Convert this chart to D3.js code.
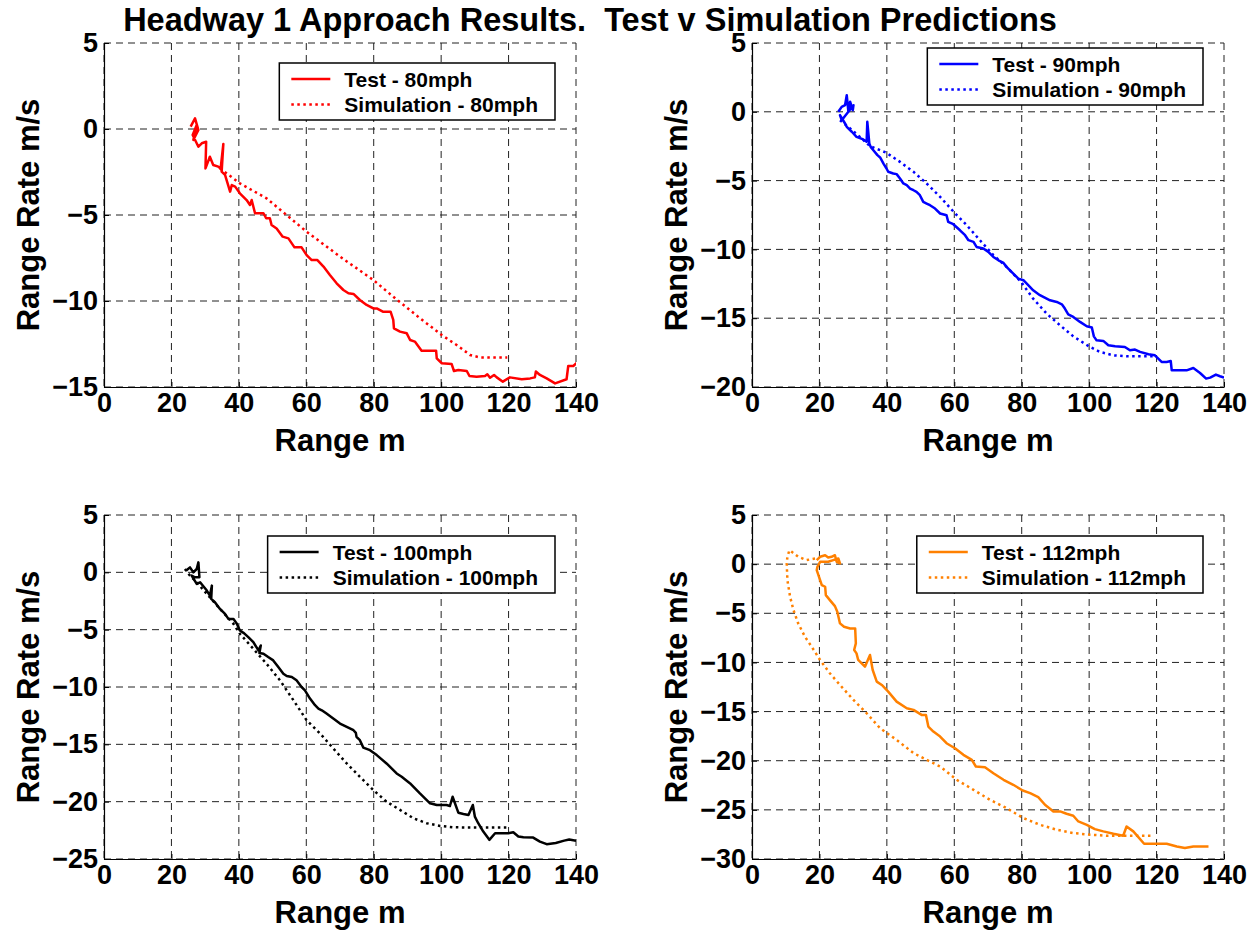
<!DOCTYPE html>
<html>
<head>
<meta charset="utf-8">
<script src="https://cdn.jsdelivr.net/npm/d3@7"></script>
<style>
  body { margin: 0; background: #fff; }
  text { font-family: "Liberation Sans", Arial, Helvetica, sans-serif; font-weight: bold; fill: #000; }
  .tick text { font-size: 27px; }
  .axis-label { font-size: 31px; }
  .legend-text { font-size: 21px; }
</style>
</head>
<body>
<div id="chart"></div>
<script>
// Data: [range m, range rate m/s]
const titleText = "Headway 1 Approach Results.  Test v Simulation Predictions";
const xTicks = [0, 20, 40, 60, 80, 100, 120, 140];

const yTicks80 = [5, 0, -5, -10, -15];
const yTicks90 = [5, 0, -5, -10, -15, -20];
const yTicks100 = [5, 0, -5, -10, -15, -20, -25];
const yTicks112 = [5, 0, -5, -10, -15, -20, -25, -30];

const legend80 = ["Test - 80mph", "Simulation - 80mph"];
const legend90 = ["Test - 90mph", "Simulation - 90mph"];
const legend100 = ["Test - 100mph", "Simulation - 100mph"];
const legend112 = ["Test - 112mph", "Simulation - 112mph"];

const test80 = [[25.7,0.14],[27.0,0.62],[28.0,-0.06],[26.5,-0.64],[27.5,0.23],[26.3,-0.35],[28.0,-1.03],[29.0,-0.83],
  [30.3,-0.74],[30.1,-2.29],[31.4,-1.61],[32.4,-2.09],[33.9,-2.19],[34.6,-2.29],[35.4,-0.87],[34.9,-2.48],[35.9,-2.67],
  [37.4,-3.64],[37.9,-3.26],[38.9,-3.35],[40.3,-3.74],[42.3,-4.13],[43.3,-4.42],[43.8,-4.13],[44.8,-4.90],[45.8,-4.90],
  [47.3,-4.90],[48.1,-5.19],[49.2,-5.19],[49.7,-5.58],[51.2,-5.78],[53.0,-6.26],[54.7,-6.36],[56.5,-6.88],[58.6,-6.88],
  [60.1,-7.33],[61.6,-7.62],[63.3,-7.62],[65.1,-8.0],[67.0,-8.49],[69.0,-8.97],[71.0,-9.36],[72.5,-9.55],[74.0,-9.59],
  [75.9,-9.94],[77.9,-10.23],[79.9,-10.43],[80.9,-10.43],[82.7,-10.62],[85.0,-10.62],[85.8,-11.10],[86.0,-11.59],
  [87.8,-11.78],[89.8,-11.88],[90.8,-12.27],[92.2,-12.36],[94.2,-12.89],[96.2,-12.89],[98.5,-12.89],[98.7,-13.33],
  [100.2,-13.62],[103.1,-13.66],[103.8,-14.07],[105.1,-14.01],[107.6,-14.07],[108.4,-14.36],[110.5,-14.40],[113.0,-14.36],
  [113.7,-14.26],[114.5,-14.46],[115.7,-14.30],[116.5,-14.44],[118.3,-14.69],[120.4,-14.44],[123.9,-14.55],[126.4,-14.5],
  [127.8,-14.44],[128.1,-14.1],[129.3,-14.3],[131.3,-14.5],[133.8,-14.79],[137.2,-14.55],[137.7,-13.78],[139.2,-13.78],[140.2,-13.6]];
const sim80 = [[34.4,-2.29],[40.3,-3.16],[48.2,-4.03],[60.1,-5.97],[70.0,-7.42],[79.9,-8.78],[85.8,-9.75],[93.7,-11.0],
  [100.2,-11.98],[104.6,-12.56],[108.6,-13.14],[111.5,-13.28],[115.5,-13.29],[119.6,-13.29]];

const test90 = [[25.6,0],[26.6,0.36],[27.6,0.48],[28.1,1.21],[28.6,0],[29.1,0.73],[29.9,0.12],[30.1,0.48],[26.6,-0.61],
  [26.1,-0.24],[27.6,-0.85],[28.1,-1.09],[29.6,-1.45],[31.0,-1.82],[33.0,-2.01],[34.0,-2.18],[34.2,-0.73],[34.8,-2.30],
  [35.2,-2.55],[36.0,-2.79],[37.2,-3.15],[38.0,-3.32],[39.0,-3.76],[39.9,-4.12],[40.4,-4.36],[41.9,-4.48],[42.9,-4.53],
  [43.9,-4.85],[44.9,-5.21],[45.9,-5.33],[46.9,-5.58],[47.9,-5.70],[48.8,-5.82],[49.8,-6.06],[50.8,-6.55],[51.8,-6.67],
  [52.8,-6.79],[54.3,-7.03],[55.8,-7.39],[57.7,-7.52],[58.2,-8.0],[59.7,-8.17],[61.7,-8.61],[63.2,-8.97],[64.2,-9.33],
  [65.7,-9.45],[66.6,-9.82],[68.6,-9.94],[70.1,-10.18],[71.6,-10.55],[73.1,-10.79],[74.6,-10.98],[75.5,-11.27],
  [77.5,-11.76],[79.0,-12.12],[80.5,-12.24],[82.0,-12.61],[83.4,-12.97],[85.4,-13.33],[88.4,-13.70],[90.4,-13.82],
  [91.9,-13.99],[92.8,-14.30],[93.8,-14.72],[95.3,-14.91],[97.3,-15.27],[99.3,-15.59],[100.8,-15.68],[101.4,-16.32],
  [102.2,-16.61],[104.2,-16.65],[105.7,-16.97],[107.7,-17.04],[110.6,-17.09],[112.1,-17.33],[113.6,-17.28],[115.1,-17.45],
  [117.6,-17.62],[119.5,-17.70],[121.5,-18.18],[123.0,-18.18],[124.2,-18.11],[124.5,-18.79],[127.0,-18.79],[128.9,-18.79],
  [130.9,-18.62],[132.9,-18.98],[134.7,-19.39],[135.9,-19.32],[137.6,-19.10],[138.8,-19.22],[140.0,-19.32]];
const sim90 = [[26.1,-0.61],[29.1,-1.21],[32.0,-1.82],[35.0,-2.50],[38.0,-2.79],[39.9,-2.98],[43.9,-3.64],[47.9,-4.36],
  [51.8,-5.21],[55.8,-6.18],[59.8,-7.27],[63.7,-8.24],[67.6,-9.33],[71.6,-10.42],[75.5,-11.27],[79.8,-12.36],[83.4,-13.58],
  [87.4,-14.67],[91.4,-15.52],[95.3,-16.32],[99.9,-17.04],[103.2,-17.45],[107.2,-17.70],[111.1,-17.77],[119.7,-17.77]];

const test100 = [[24.3,0.14],[25.5,0.43],[26.5,0],[27.5,0.29],[28.0,0.87],[28.3,-0.43],[27.0,-0.43],[26.0,-0.29],
  [27.5,-1.01],[28.5,-0.87],[30.5,-1.59],[31.4,-2.03],[32.0,-1.16],[31.8,-2.32],[32.9,-2.61],[34.4,-3.19],[35.9,-3.62],
  [36.9,-4.06],[38.4,-4.06],[39.4,-4.49],[40.3,-5.07],[41.5,-5.30],[42.8,-5.65],[44.3,-6.09],[45.8,-6.81],[46.5,-6.38],
  [46.1,-7.04],[47.3,-7.10],[48.7,-7.39],[50.2,-7.68],[51.7,-8.26],[53.2,-8.84],[54.2,-9.04],[55.7,-9.13],[57.1,-9.42],
  [58.6,-10.0],[59.6,-10.29],[61.1,-11.01],[62.6,-11.59],[63.6,-11.88],[64.6,-12.03],[66.0,-12.32],[68.0,-12.75],
  [70.0,-13.19],[72.0,-13.48],[74.0,-13.77],[74.7,-14.0],[74.9,-14.35],[75.9,-14.64],[76.9,-15.28],[78.9,-15.51],
  [80.9,-15.94],[83.8,-16.67],[86.8,-17.54],[88.3,-17.83],[90.8,-18.41],[93.7,-19.28],[96.7,-20.14],[98.7,-20.29],
  [101.6,-20.29],[102.6,-20.38],[103.4,-19.57],[105.1,-20.96],[106.6,-21.07],[108.1,-21.16],[109.4,-20.29],[110.0,-21.30],
  [111.0,-21.88],[112.5,-22.61],[114.3,-23.33],[116.0,-22.75],[117.5,-22.75],[119.9,-22.75],[121.4,-22.67],[122.9,-23.04],
  [124.4,-23.10],[127.3,-23.13],[129.3,-23.48],[131.3,-23.71],[134.0,-23.6],[136.5,-23.4],[138.0,-23.3],[140.0,-23.4]];
const sim100 = [[24.0,0.29],[25.5,-0.29],[27.5,-0.87],[30.5,-1.88],[34.4,-3.19],[38.4,-4.49],[40.3,-5.36],[44.3,-6.67],
  [48.2,-7.97],[52.2,-9.42],[56.2,-11.16],[60.1,-12.90],[64.1,-14.06],[68.0,-15.36],[72.0,-16.67],[75.9,-17.83],
  [79.9,-18.99],[83.8,-20.0],[87.8,-20.72],[91.8,-21.45],[95.7,-21.88],[99.7,-22.12],[103.6,-22.23],[107.6,-22.26],
  [112.5,-22.26],[119.4,-22.26]];

const test112 = [[19.2,0.41],[20.2,0.75],[21.7,0.91],[22.6,0.68],[23.6,0.75],[24.6,0.91],[25.1,0.24],[26.1,0.07],
  [25.6,0.58],[24.1,0.41],[22.6,0.24],[20.2,0.24],[19.4,-0.27],[19.2,-0.61],[20.2,-1.63],[20.7,-2.13],[21.7,-2.30],
  [21.9,-3.15],[23.1,-3.66],[24.6,-4.27],[25.3,-4.84],[26.1,-6.03],[27.3,-6.37],[29.1,-6.54],[30.6,-6.54],[30.8,-8.06],
  [30.3,-8.74],[31.0,-9.08],[31.5,-9.75],[33.5,-10.43],[35.0,-9.24],[35.8,-10.77],[37.0,-11.95],[38.5,-12.29],
  [40.4,-12.97],[42.9,-13.99],[45.9,-14.66],[47.9,-14.83],[50.3,-15.34],[51.6,-15.34],[52.3,-16.53],[53.8,-17.03],
  [55.8,-17.54],[57.7,-18.22],[60.2,-18.73],[62.7,-19.40],[65.2,-19.91],[66.4,-20.59],[69.1,-20.66],[71.6,-21.27],
  [74.6,-21.94],[77.5,-22.45],[80.3,-23.03],[82.5,-23.30],[84.9,-23.70],[86.9,-24.48],[89.4,-25.16],[91.4,-25.16],
  [93.3,-25.40],[95.3,-25.60],[96.8,-26.18],[99.3,-26.52],[101.7,-26.96],[104.2,-27.19],[107.2,-27.43],[110.1,-27.63],
  [111.1,-26.69],[113.1,-27.19],[114.6,-27.77],[116.3,-28.45],[119.0,-28.45],[123.0,-28.45],[126.0,-28.72],
  [128.4,-28.89],[130.9,-28.72],[132.9,-28.72],[135.4,-28.72]];
const sim112 = [[18.7,0.58],[16.2,0.41],[13.7,0.75],[11.8,1.25],[11.1,1.42],[10.5,0.75],[10.3,0.07],[10.5,-1.63],
  [11.3,-3.32],[12.3,-4.67],[13.7,-6.03],[15.7,-7.38],[17.7,-8.40],[20.2,-9.75],[23.1,-11.11],[26.1,-12.29],
  [30.1,-13.82],[34.0,-15.17],[38.0,-16.70],[42.9,-17.88],[47.9,-19.23],[51.8,-19.91],[55.8,-20.59],[60.7,-21.94],
  [65.7,-22.96],[70.6,-23.98],[75.5,-24.82],[80.5,-25.84],[85.4,-26.52],[90.4,-27.02],[95.3,-27.36],[100.3,-27.53],
  [105.2,-27.63],[110.1,-27.63],[119.0,-27.63]];

// Layout
const width = 1253;
const height = 932;
const plotW = 472;
const plotH = 344;

const panels = [
  { id: "p80", left: 104, top: 43, yTicks: yTicks80, test: test80, sim: sim80, color: "#ff0000", legend: legend80, legendTop: 20 },
  { id: "p90", left: 752, top: 43, yTicks: yTicks90, test: test90, sim: sim90, color: "#0000ff", legend: legend90, legendTop: 5 },
  { id: "p100", left: 104, top: 515, yTicks: yTicks100, test: test100, sim: sim100, color: "#000000", legend: legend100, legendTop: 21 },
  { id: "p112", left: 752, top: 515, yTicks: yTicks112, test: test112, sim: sim112, color: "#ff8000", legend: legend112, legendTop: 21 },
];

const svg = d3
    .select("#chart")
    .append("svg")
    .attr("width", width)
    .attr("height", height);

// Title
svg.append("text")
    .attr("x", 590)
    .attr("y", 31)
    .attr("text-anchor", "middle")
    .attr("xml:space", "preserve")
    .style("white-space", "pre")
    .style("font-size", "32.5px")
    .text(titleText);

function drawPanel(p) {
    const g = svg.append("g").attr("transform", `translate(${p.left},${p.top})`);

    const x = d3.scaleLinear().domain([0, 140]).range([0, plotW]);
    const y = d3.scaleLinear()
        .domain([p.yTicks[p.yTicks.length - 1], p.yTicks[0]])
        .range([plotH, 0]);

    // Dashed grid
    g.selectAll(".vgrid")
        .data(xTicks)
        .join("line")
        .attr("class", "vgrid")
        .attr("x1", (d) => x(d))
        .attr("x2", (d) => x(d))
        .attr("y1", 0)
        .attr("y2", plotH)
        .attr("stroke", "#222")
        .attr("stroke-width", 1)
        .attr("stroke-dasharray", "7,5");

    g.selectAll(".hgrid")
        .data(p.yTicks)
        .join("line")
        .attr("class", "hgrid")
        .attr("x1", 0)
        .attr("x2", plotW)
        .attr("y1", (d) => y(d))
        .attr("y2", (d) => y(d))
        .attr("stroke", "#222")
        .attr("stroke-width", 1)
        .attr("stroke-dasharray", "7,5");

    // Axes
    const xAxis = g.append("g")
        .attr("transform", `translate(0,${plotH})`)
        .call(d3.axisBottom(x).tickValues(xTicks).tickSize(-5).tickSizeOuter(0).tickPadding(6));
    const yAxis = g.append("g")
        .call(d3.axisLeft(y).tickValues(p.yTicks).tickSize(-5).tickSizeOuter(0).tickPadding(6));
    [xAxis, yAxis].forEach((a) => {
        a.attr("font-size", null).attr("font-family", null);
        a.select(".domain").attr("stroke", "#000").attr("stroke-width", 1.2);
        a.selectAll(".tick line").attr("stroke", "#000");
    });

    // Axis labels
    g.append("text")
        .attr("class", "axis-label")
        .attr("x", plotW / 2)
        .attr("y", plotH + 64)
        .attr("text-anchor", "middle")
        .text("Range m");

    g.append("text")
        .attr("class", "axis-label")
        .attr("transform", `translate(-65,${plotH / 2}) rotate(-90)`)
        .attr("text-anchor", "middle")
        .text("Range Rate m/s");

    // Lines, clipped to the axes box
    g.append("clipPath")
        .attr("id", "clip-" + p.id)
        .append("rect")
        .attr("width", plotW)
        .attr("height", plotH);

    const line = d3.line().x((d) => x(d[0])).y((d) => y(d[1]));
    const plot = g.append("g").attr("clip-path", `url(#clip-${p.id})`);

    plot.append("path")
        .datum(p.sim)
        .attr("d", line)
        .attr("fill", "none")
        .attr("stroke", p.color)
        .attr("stroke-width", 2.5)
        .attr("stroke-dasharray", "2.5,3.5");

    plot.append("path")
        .datum(p.test)
        .attr("d", line)
        .attr("fill", "none")
        .attr("stroke", p.color)
        .attr("stroke-width", 2.5)
        .attr("stroke-linejoin", "round");

    // Legend
    const lg = g.append("g");
    const box = lg.append("rect")
        .attr("fill", "#fff")
        .attr("stroke", "#000")
        .attr("stroke-width", 1.5)
        .attr("height", 57);

    let maxW = 0;
    p.legend.forEach((label, i) => {
        const cy = 16 + i * 25.5;
        lg.append("line")
            .attr("x1", 12)
            .attr("x2", 51)
            .attr("y1", cy)
            .attr("y2", cy)
            .attr("stroke", p.color)
            .attr("stroke-width", 2.5)
            .attr("stroke-dasharray", i === 0 ? null : "2.5,3.5");
        const t = lg.append("text")
            .attr("class", "legend-text")
            .attr("x", 65)
            .attr("y", cy + 7.5)
            .text(label);
        maxW = Math.max(maxW, t.node().getComputedTextLength());
    });
    const boxW = 65 + maxW + 17;
    box.attr("width", boxW);
    lg.attr("transform", `translate(${plotW - 21 - boxW},${p.legendTop})`);
}

panels.forEach(drawPanel);
</script>
</body>
</html>
